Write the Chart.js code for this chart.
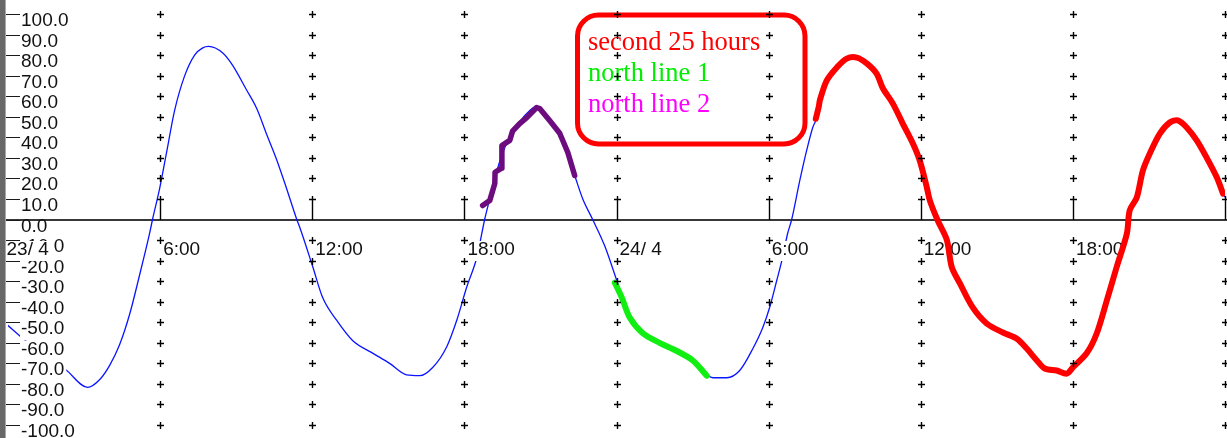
<!DOCTYPE html>
<html>
<head>
<meta charset="utf-8">
<script src="https://cdn.jsdelivr.net/npm/chart.js@4.4.0/dist/chart.umd.min.js"></script>
<style>
  html, body { margin: 0; padding: 0; background: #fff; overflow: hidden; }
  canvas { display: block; }
</style>
</head>
<body>
<canvas id="tide" width="1227" height="438"></canvas>
<script>
// hours since 23/4 00:00, level in cm
const blueHours = [0, 0.5, 1.4, 2.27, 3.14, 3.61, 4.01, 4.4, 4.8, 5.19, 5.58, 5.7, 5.98, 6.26, 6.57, 6.97, 7.36, 7.68, 7.91,
  8.47, 8.86, 9.41, 9.81, 10.2, 10.6, 10.99, 11.39, 11.51, 12.02, 12.41, 12.96, 13.6, 14.38, 15.05, 15.72, 16.24, 16.75,
  17.3, 17.7, 18.09, 18.49, 18.8, 19.0, 19.2, 19.47, 19.79, 20.18, 20.58, 20.85, 21.17, 21.56, 21.96, 22.35, 22.67, 23.06,
  23.53, 24.01, 24.21, 24.52, 25.05, 25.7, 26.38, 27.01, 27.56, 27.8, 28.35, 28.86, 29.37, 29.77, 30.04, 30.32, 30.52,
  30.75, 30.91, 31.23, 31.5, 31.74, 31.9, 32.02, 32.29, 32.69, 33.08, 33.48, 33.87, 34.26, 34.5, 34.9, 35.29, 35.69,
  35.96, 36.24, 36.36, 36.67, 37.03, 37.22, 37.54, 38.05, 38.6, 39.24, 39.79, 40.18, 40.58, 40.89, 41.36, 41.76, 42.0,
  42.55, 42.94, 43.34, 43.73, 44.13, 44.24, 44.52, 44.76, 45.03, 45.43, 45.82, 46.14, 46.49, 46.89, 47.28, 47.68, 47.92, 48];
const blueLevels = [-51.6, -57, -66, -73, -81.7, -78, -71, -61, -46, -27, -7, 0, 15, 33, 53, 70, 80, 83.5, 84.2,
  81, 75, 63, 54, 41.5, 29, 15, 0, -3.9, -23, -38, -49, -59, -65, -70, -75.6, -76, -72,
  -62, -49, -33, -18.5, 0, 10, 20, 31, 40, 47.5, 53, 55, 52, 45, 35, 21.4, 10, 0,
  -12.7, -29.7, -37, -46, -54.5, -60, -64.5, -69.5, -75.5, -77, -77, -73.5, -63, -52.5, -42.8, -29.7, -20,
  -6.8, 0, 19, 33.6, 44.8, 49.6, 58, 67.6, 74, 78.3, 78.8, 76, 71, 64, 56.4, 46.7, 37,
  28.7, 15.6, 9.2, -0.5, -10, -23, -31, -42.8, -50.6, -55, -58, -62.8, -68.6, -72.5, -73.5, -75, -72,
  -65, -55.5, -39.4, -23, -6.8, 4.4, 10.7, 23.8, 32, 41.8, 47.2, 48.2, 44.8, 38.4, 30, 20.4, 12.6, 11];

const purpleHours = [18.72, 19.0, 19.2, 19.21, 19.47, 19.48, 19.79, 19.9, 20.18, 20.46, 20.85, 20.97, 21.37, 21.76, 22.08, 22.35];
const purpleLevels = [6.8, 9.2, 17.5, 23, 25, 36, 38.5, 43, 46.7, 49.6, 54.5, 54, 48, 42, 32.6, 21.4];

const greenHours = [23.93, 24.21, 24.52, 25.05, 25.7, 26.38, 27.01, 27.56];
const greenLevels = [-30.7, -38, -47.7, -55.5, -60, -64, -68.6, -76];

const redHours = [31.86, 31.98, 32.02, 32.29, 32.69, 33.08, 33.48, 33.87, 34.26, 34.5, 34.9, 35.29, 35.69, 35.96, 36.24, 36.36,
  36.67, 37.03, 37.22, 37.54, 38.05, 38.6, 39.24, 39.79, 40.18, 40.58, 40.89, 41.36, 41.76, 42.0, 42.55, 42.94, 43.34,
  43.73, 44.13, 44.24, 44.52, 44.76, 45.03, 45.43, 45.82, 46.14, 46.49, 46.89, 47.28, 47.68, 47.92];
const redLevels = [49, 55, 58, 67.6, 74, 78.3, 78.8, 76, 71, 64, 56.4, 46.7, 37, 28.7, 15.6, 9.2,
  -0.5, -10, -23, -31, -42.8, -50.6, -55, -58, -62.8, -68.6, -72.5, -73.5, -75, -72, -65, -55.5, -39.4,
  -23, -6.8, 4.4, 10.7, 23.8, 32, 41.8, 47.2, 48.2, 44.8, 38.4, 30, 20.4, 12.6];

const yTickValues = [100, 90, 80, 70, 60, 50, 40, 30, 20, 10, 0, -10, -20, -30, -40, -50, -60, -70, -80, -90, -100];
const xTickHours = [0, 6, 12, 18, 24, 30, 36, 42];
const xTickLabels = ['23/ 4', '6:00', '12:00', '18:00', '24/ 4', '6:00', '12:00', '18:00'];
const gridHours = [6, 12, 18, 24, 30, 36, 42, 48];

const legendLabels = ['second 25 hours', 'north line 1', 'north line 2'];
const legendColors = ['#ff0000', '#00ee00', '#ff00ff'];

const toPoints = (hs, vs) => hs.map((h, i) => ({ x: h, y: vs[i] }));

const AXIS_FONT = '19px "Liberation Sans", Arial, sans-serif';

function drawLabels(chart) {
  const { ctx, scales: { x, y } } = chart;
  const y0 = Math.round(y.getPixelForValue(0));
  ctx.save();

  // legend box
  ctx.strokeStyle = '#ff0000';
  ctx.lineWidth = 5;
  ctx.beginPath();
  ctx.roundRect(577.5, 15, 227.5, 129, 21);
  ctx.stroke();
  ctx.font = '26.5px "Liberation Serif", "Times New Roman", serif';
  ctx.textBaseline = 'alphabetic';
  legendLabels.forEach((t, i) => {
    ctx.fillStyle = legendColors[i];
    ctx.fillText(t, 588, 50 + i * 30.8);
  });

  // y ticks and labels, white backdrop over the curve
  ctx.font = AXIS_FONT;
  yTickValues.forEach(v => {
    const py = Math.round(y.getPixelForValue(v));
    const label = v.toFixed(1);
    const w = ctx.measureText(label).width;
    ctx.fillStyle = '#fff';
    ctx.fillRect(20, v === 0 ? py + 1.5 : py - 2, w + 3, v === 0 ? 17 : 20.5);
    ctx.strokeStyle = '#1a1a1a';
    ctx.lineWidth = 1;
    ctx.beginPath();
    ctx.moveTo(6, py + 0.5);
    ctx.lineTo(20, py + 0.5);
    ctx.stroke();
    ctx.fillStyle = '#111';
    ctx.fillText(label, 21, py + 12);
  });

  // x labels
  xTickHours.forEach((h, i) => {
    const px = x.getPixelForValue(h) + (i === 0 ? -1.5 : 3);
    const w = ctx.measureText(xTickLabels[i]).width;
    ctx.fillStyle = '#fff';
    ctx.fillRect(px - 1, y0 + 21, w + 6, 20);
    ctx.fillStyle = '#111';
    ctx.fillText(xTickLabels[i], px, y0 + 35);
  });
  ctx.restore();
}

const tideFrame = {
  id: 'tideFrame',
  beforeDatasetsDraw(chart) {
    const { ctx, scales: { y } } = chart;
    const y0 = Math.round(y.getPixelForValue(0));
    ctx.save();
    ctx.strokeStyle = '#383838';
    ctx.lineWidth = 2;
    ctx.beginPath();
    ctx.moveTo(6, y0);
    ctx.lineTo(chart.width, y0);
    ctx.stroke();
    ctx.restore();
  },
  // labels sit above the tide curve but under the red line
  beforeDatasetDraw(chart, args) {
    if (args.meta.label === 'second 25 hours') drawLabels(chart);
  },
  afterDatasetsDraw(chart) {
    const { ctx, scales: { x, y } } = chart;
    const y0 = Math.round(y.getPixelForValue(0));
    const p10 = Math.round(y.getPixelForValue(10));
    ctx.save();
    ctx.strokeStyle = '#000';
    ctx.lineWidth = 1.4;
    gridHours.forEach(h => {
      const px = Math.round(x.getPixelForValue(h)) + 0.5;
      ctx.beginPath();
      yTickValues.forEach(v => {
        if (v === 0) return;
        const py = Math.round(y.getPixelForValue(v)) + 0.5;
        ctx.moveTo(px - 3.5, py);
        ctx.lineTo(px + 3.5, py);
        ctx.moveTo(px, py - 3.5);
        ctx.lineTo(px, py + 3.5);
      });
      ctx.moveTo(px, p10 + 4);
      ctx.lineTo(px, y0);
      ctx.stroke();
    });

    // left frame bar
    ctx.fillStyle = '#686868';
    ctx.fillRect(0, 0, 5, chart.height);
    ctx.fillStyle = '#a8a8a8';
    ctx.fillRect(5, 0, 1, chart.height);
    ctx.restore();
  }
};

new Chart(document.getElementById('tide'), {
  type: 'line',
  data: {
    datasets: [
      { label: 'tide', data: toPoints(blueHours, blueLevels), borderColor: '#0a14ff', borderWidth: 1.3, cubicInterpolationMode: 'monotone', order: 4 },
      { label: 'north line 2', data: toPoints(purpleHours, purpleLevels), borderColor: '#6c0c7e', borderWidth: 5.5, tension: 0, order: 3 },
      { label: 'north line 1', data: toPoints(greenHours, greenLevels), borderColor: '#11ee11', borderWidth: 6, tension: 0.3, order: 2 },
      { label: 'second 25 hours', data: toPoints(redHours, redLevels), borderColor: '#ff0000', borderWidth: 6, tension: 0.3, order: 1 }
    ]
  },
  options: {
    responsive: false,
    animation: false,
    devicePixelRatio: 1,
    layout: { padding: { left: 8, right: 2, top: 14, bottom: 13 } },
    elements: {
      point: { radius: 0 },
      line: { borderCapStyle: 'round', borderJoinStyle: 'round', fill: false }
    },
    scales: {
      x: { type: 'linear', min: 0, max: 48, display: false },
      y: { type: 'linear', min: -100, max: 100, display: false }
    },
    plugins: { legend: { display: false }, tooltip: { enabled: false } }
  },
  plugins: [tideFrame]
});
</script>
</body>
</html>
